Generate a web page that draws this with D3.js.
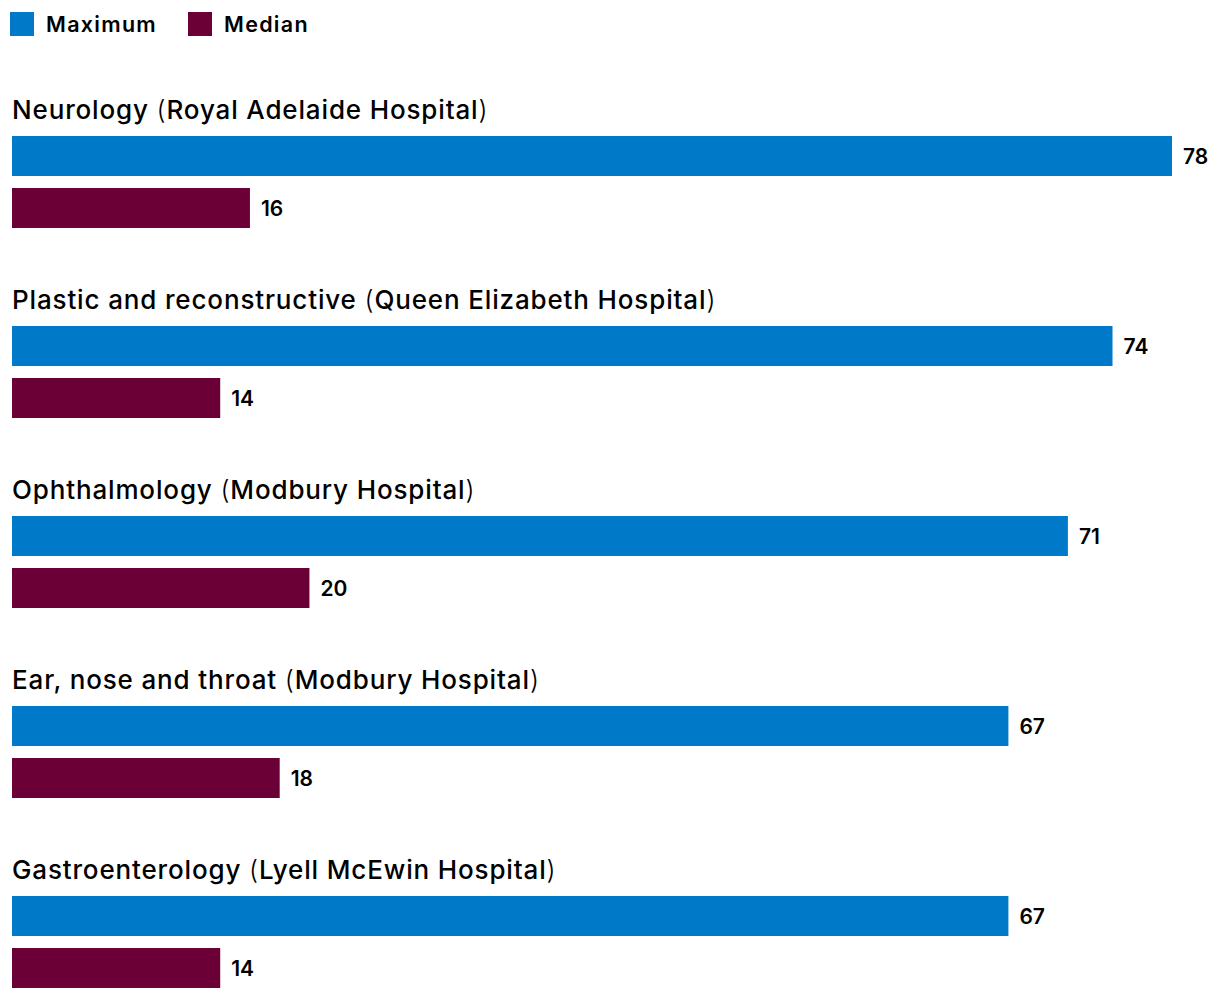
<!DOCTYPE html>
<html>
<head>
<meta charset="utf-8">
<script src="https://cdn.jsdelivr.net/npm/d3@7"></script>
<style>
  body { margin: 0; background: #fff; }
  svg text { font-family: Inter, "Noto Sans", sans-serif; fill: #000; }
</style>
</head>
<body>
<div id="chart"></div>
<script>
// data
const specialties = ['Neurology', 'Plastic and reconstructive', 'Ophthalmology', 'Ear, nose and throat', 'Gastroenterology'];
const hospitals = ['Royal Adelaide Hospital', 'Queen Elizabeth Hospital', 'Modbury Hospital', 'Modbury Hospital', 'Lyell McEwin Hospital'];
const maximumValues = [78, 74, 71, 67, 67];
const medianValues = [16, 14, 20, 18, 14];
const seriesNames = ['Maximum', 'Median'];
const seriesColors = ['#0079c8', '#6b0036'];

const width = 1220, height = 998;

const svg = d3.select('#chart')
    .append('svg')
    .attr('width', width)
    .attr('height', height);

// legend
const legend = svg.append('g').attr('class', 'legend');
const legendX = [10, 188];
seriesNames.forEach((name, i) => {
    const g = legend.append('g').attr('transform', 'translate(' + legendX[i] + ',12)');
    g.append('rect').attr('width', 24).attr('height', 24).attr('fill', seriesColors[i]);
    g.append('text')
        .attr('x', 36)
        .attr('y', 12)
        .attr('dy', '0.36em')
        .style('font-size', '21.5px')
        .style('font-weight', 600)
        .style('letter-spacing', '1.3px')
        .text(name);
});

// scales
const x = d3.scaleLinear()
    .domain([0, 78])
    .range([12, 1172]);

const group = d3.scaleBand()
    .domain(specialties)
    .range([90, 1040])
    .padding(0);

const inner = d3.scaleBand()
    .domain(seriesNames)
    .range([46, 138])
    .paddingInner(12 / 52)
    .paddingOuter(0);

const rows = specialties.map((s, i) => ({
    name: s,
    hospital: hospitals[i],
    values: [
        { series: 'Maximum', value: maximumValues[i] },
        { series: 'Median', value: medianValues[i] }
    ]
}));

const groups = svg.selectAll('.group')
    .data(rows)
    .enter()
    .append('g')
    .attr('class', 'group')
    .attr('transform', d => 'translate(0,' + group(d.name) + ')');

// group title
const title = groups.append('text')
    .attr('x', 12)
    .attr('y', 20)
    .attr('dy', '0.36em')
    .style('font-size', '26px')
    .style('font-weight', 550)
    .style('letter-spacing', '0.85px');
title.append('tspan').text(d => d.name + ' ');
title.append('tspan').style('font-weight', 300).text('(');
title.append('tspan').text(d => d.hospital);
title.append('tspan').style('font-weight', 300).text(')');

// bars
groups.selectAll('.bar')
    .data(d => d.values)
    .enter()
    .append('rect')
    .attr('class', 'bar')
    .attr('x', x(0))
    .attr('y', d => inner(d.series))
    .attr('width', d => x(d.value) - x(0))
    .attr('height', inner.bandwidth())
    .attr('fill', d => seriesColors[seriesNames.indexOf(d.series)]);

// value labels
groups.selectAll('.value')
    .data(d => d.values)
    .enter()
    .append('text')
    .attr('class', 'value')
    .attr('x', d => x(d.value) + 11)
    .attr('y', d => inner(d.series) + inner.bandwidth() / 2)
    .attr('dy', '0.36em')
    .style('font-size', '21px')
    .style('font-weight', 600)
    .text(d => d.value);
</script>
</body>
</html>
